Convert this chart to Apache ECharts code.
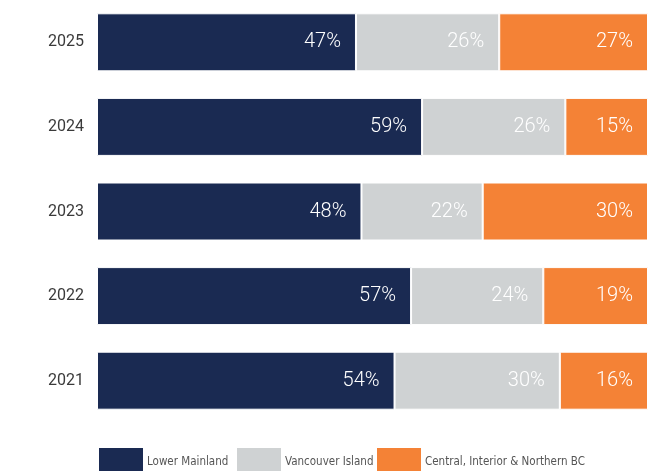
<!DOCTYPE html>
<html>
<head>
<meta charset="utf-8">
<script src="https://cdn.jsdelivr.net/npm/echarts@6/dist/echarts.min.js"></script>
<style>
html,body{margin:0;padding:0;background:#fff;}
#chart{width:667px;height:471px;}
</style>
</head>
<body>
<div id="chart"></div>
<script>
const years = ['2021', '2022', '2023', '2024', '2025'];
const lowerMainland = [54, 57, 48, 59, 47];
const vancouverIsland = [30, 24, 22, 26, 26];
const centralNorthern = [16, 19, 30, 15, 27];
const seriesNames = ['Lower Mainland', 'Vancouver Island', 'Central, Interior & Northern BC'];
const colors = ['#1a2a52', '#cfd2d3', '#f48236'];

const condensed = '"Liberation Sans Narrow", "DejaVu Sans Condensed", sans-serif';

const chart = echarts.init(document.getElementById('chart'), null, {renderer: 'canvas'});

function makeSeries(name, data, color) {
  return {
    name: name,
    type: 'bar',
    stack: 'total',
    data: data,
    barWidth: 58,
    itemStyle: {color: color, borderColor: '#ffffff', borderWidth: 1},
    label: {
      show: true,
      position: 'insideRight',
      distance: 15,
      color: '#ffffff',
      fontFamily: 'Roboto, sans-serif',
      fontWeight: 300,
      fontSize: 20,
      formatter: '{c}%'
    },
    emphasis: {disabled: true}
  };
}

const legendLefts = [97, 235, 375];

chart.setOption({
  animation: false,
  color: colors,
  grid: {left: 97, right: 19, top: -3, bottom: 48},
  xAxis: {
    type: 'value',
    min: 0,
    max: 100,
    show: false
  },
  yAxis: {
    type: 'category',
    data: years,
    axisLine: {show: false},
    axisTick: {show: false},
    axisLabel: {
      color: '#3a3a3a',
      fontFamily: 'Roboto, sans-serif',
      fontSize: 16,
      margin: 13
    }
  },
  legend: seriesNames.map((n, i) => ({
    data: [n],
    left: legendLefts[i],
    top: 446,
    padding: 0,
    itemWidth: 46,
    itemHeight: 31,
    itemGap: 0,
    icon: 'rect',
    selectedMode: false,
    textStyle: {
      color: '#555555',
      fontFamily: condensed,
      fontSize: 11.5,
      padding: [0, 0, 0, -2]
    }
  })),
  series: [
    makeSeries(seriesNames[0], lowerMainland, colors[0]),
    makeSeries(seriesNames[1], vancouverIsland, colors[1]),
    makeSeries(seriesNames[2], centralNorthern, colors[2])
  ]
});
</script>
</body>
</html>
